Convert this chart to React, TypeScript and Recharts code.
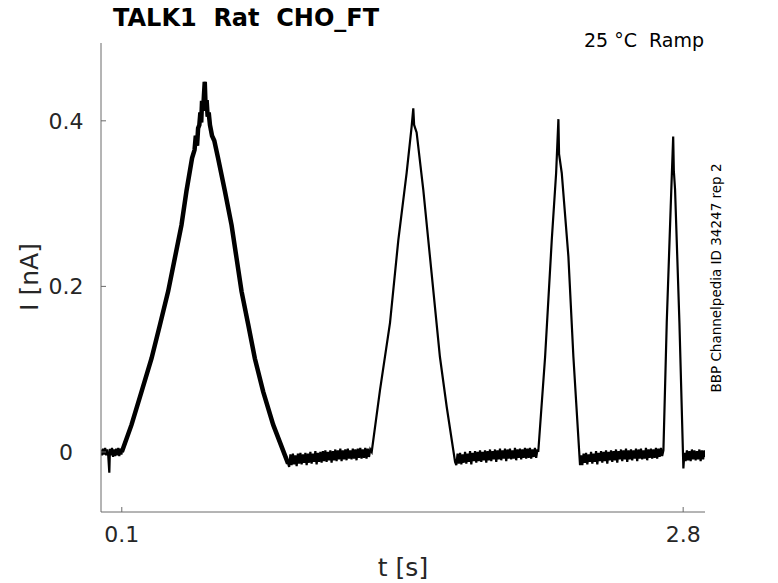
import React from "react";
import { LineChart, Line, XAxis, YAxis } from "recharts";

// 画布与坐标区(像素),对应原图 778x583
const W = 778;
const H = 583;
const FONT = "'DejaVu Sans', sans-serif";
const TXT = "#262626";
const AXIS = "#6b6b6b";

const xTicks = [0.1, 2.8];
const yTicks = [0, 0.2, 0.4];
const xDomain: [number, number] = [0, 2.905];
const yDomain: [number, number] = [-0.0725, 0.494];

// [t (s), I (nA)] —— 各段
const base0: [number, number][] = [
  [0.0, 0.003], [0.005, -0.004], [0.01, 0.004], [0.015, -0.003], [0.02, 0.005],
  [0.025, -0.004], [0.03, 0.003], [0.035, -0.005], [0.04, -0.025], [0.043, 0.004],
  [0.048, -0.004], [0.053, 0.005], [0.058, -0.006], [0.063, 0.003], [0.068, -0.005],
  [0.073, 0.004], [0.078, -0.004], [0.083, 0.005], [0.088, -0.005], [0.093, 0.004],
  [0.098, -0.003],
];

const ramp1: [number, number][] = [
  [0.1, 0.0], [0.147, 0.033], [0.195, 0.073], [0.243, 0.113], [0.283, 0.153],
  [0.323, 0.194], [0.355, 0.234], [0.387, 0.274], [0.411, 0.315], [0.438, 0.355],
  [0.45, 0.365], [0.456, 0.382], [0.462, 0.37], [0.467, 0.391], [0.473, 0.395],
  [0.478, 0.41], [0.482, 0.398], [0.486, 0.424], [0.491, 0.412], [0.495, 0.43],
  [0.499, 0.447], [0.503, 0.418], [0.508, 0.425], [0.513, 0.405], [0.518, 0.41],
  [0.524, 0.395], [0.534, 0.382], [0.545, 0.376], [0.563, 0.355], [0.596, 0.315],
  [0.628, 0.274], [0.652, 0.234], [0.676, 0.194], [0.708, 0.154], [0.74, 0.113],
  [0.78, 0.073], [0.828, 0.033], [0.9, -0.014],
];

const base1: [number, number][] = [
  [0.905, -0.018], [0.911, -0.003], [0.917, -0.016], [0.923, -0.002], [0.929, -0.015],
  [0.935, -0.004], [0.941, -0.017], [0.947, -0.002], [0.953, -0.014], [0.959, -0.001],
  [0.965, -0.015], [0.971, -0.003], [0.977, -0.013], [0.983, -0.001], [0.989, -0.016],
  [0.995, -0.002], [1.001, -0.013], [1.007, 0.0], [1.013, -0.014], [1.019, -0.002],
  [1.025, -0.012], [1.031, 0.001], [1.037, -0.015], [1.043, -0.001], [1.049, -0.012],
  [1.055, 0.0], [1.061, -0.013], [1.067, 0.001], [1.073, -0.011], [1.079, 0.002],
  [1.085, -0.012], [1.091, 0.0], [1.097, -0.01], [1.103, 0.002], [1.109, -0.013],
  [1.115, 0.001], [1.121, -0.01], [1.127, 0.003], [1.133, -0.011], [1.139, 0.002],
  [1.145, -0.009], [1.151, 0.004], [1.157, -0.011], [1.163, 0.002], [1.169, -0.009],
  [1.175, 0.003], [1.181, -0.01], [1.187, 0.004], [1.193, -0.008], [1.199, 0.002],
  [1.205, -0.009], [1.211, 0.004], [1.217, -0.008], [1.223, 0.003], [1.229, -0.01],
  [1.235, 0.004], [1.241, -0.007], [1.247, 0.005], [1.253, -0.008], [1.259, 0.003],
  [1.265, -0.007], [1.271, 0.005], [1.277, -0.008], [1.283, 0.004], [1.289, -0.006],
  [1.295, 0.003],
];

const ramp2: [number, number][] = [
  [1.302, 0.0], [1.342, 0.075], [1.39, 0.156], [1.43, 0.256], [1.47, 0.337],
  [1.494, 0.393], [1.502, 0.415], [1.506, 0.395], [1.518, 0.386], [1.55, 0.317],
  [1.59, 0.216], [1.63, 0.115], [1.663, 0.054], [1.703, -0.012],
];

const base2: [number, number][] = [
  [1.709, -0.016], [1.715, -0.002], [1.721, -0.014], [1.727, -0.001], [1.733, -0.015],
  [1.739, -0.003], [1.745, -0.013], [1.751, 0.0], [1.757, -0.014], [1.763, -0.002],
  [1.769, -0.012], [1.775, 0.001], [1.781, -0.015], [1.787, -0.001], [1.793, -0.011],
  [1.799, 0.001], [1.805, -0.013], [1.811, 0.0], [1.817, -0.011], [1.823, 0.002],
  [1.829, -0.012], [1.835, 0.0], [1.841, -0.01], [1.847, 0.002], [1.853, -0.013],
  [1.859, 0.001], [1.865, -0.01], [1.871, 0.003], [1.877, -0.011], [1.883, 0.001],
  [1.889, -0.009], [1.895, 0.003], [1.901, -0.012], [1.907, 0.002], [1.913, -0.009],
  [1.919, 0.004], [1.925, -0.01], [1.931, 0.002], [1.937, -0.008], [1.943, 0.004],
  [1.949, -0.011], [1.955, 0.003], [1.961, -0.008], [1.967, 0.004], [1.973, -0.009],
  [1.979, 0.002], [1.985, -0.008], [1.991, 0.005], [1.997, -0.01], [2.003, 0.003],
  [2.009, -0.007], [2.015, 0.004], [2.021, -0.009], [2.027, 0.003], [2.033, -0.007],
  [2.039, 0.005], [2.045, -0.008], [2.051, 0.004], [2.057, -0.007], [2.063, 0.005],
  [2.069, -0.008], [2.075, 0.003], [2.081, -0.006], [2.087, 0.005], [2.093, -0.007],
  [2.099, 0.003],
];

const ramp3: [number, number][] = [
  [2.103, 0.0], [2.136, 0.115], [2.168, 0.256], [2.189, 0.337], [2.2, 0.402],
  [2.203, 0.36], [2.216, 0.337], [2.248, 0.236], [2.272, 0.115], [2.304, -0.016],
];

const base3: [number, number][] = [
  [2.309, -0.004], [2.315, -0.016], [2.321, -0.002], [2.327, -0.013], [2.333, -0.001],
  [2.339, -0.015], [2.345, -0.003], [2.351, -0.012], [2.357, 0.0], [2.363, -0.014],
  [2.369, -0.002], [2.375, -0.012], [2.381, 0.001], [2.387, -0.015], [2.393, -0.001],
  [2.399, -0.011], [2.405, 0.001], [2.411, -0.013], [2.417, 0.0], [2.423, -0.011],
  [2.429, 0.002], [2.435, -0.014], [2.441, 0.0], [2.447, -0.01], [2.453, 0.002],
  [2.459, -0.012], [2.465, 0.001], [2.471, -0.01], [2.477, 0.003], [2.483, -0.013],
  [2.489, 0.001], [2.495, -0.009], [2.501, 0.003], [2.507, -0.011], [2.513, 0.002],
  [2.519, -0.009], [2.525, 0.004], [2.531, -0.012], [2.537, 0.002], [2.543, -0.009],
  [2.549, 0.003], [2.555, -0.01], [2.561, 0.002], [2.567, -0.008], [2.573, 0.004],
  [2.579, -0.011], [2.585, 0.003], [2.591, -0.008], [2.597, 0.004], [2.603, -0.009],
  [2.609, 0.002], [2.615, -0.008], [2.621, 0.005], [2.627, -0.01], [2.633, 0.003],
  [2.639, -0.007], [2.645, 0.004], [2.651, -0.008], [2.657, 0.003], [2.663, -0.007],
  [2.669, 0.005], [2.675, -0.008], [2.681, 0.004], [2.687, -0.006], [2.693, 0.005],
  [2.699, -0.005],
];

const ramp4: [number, number][] = [
  [2.705, 0.002], [2.721, 0.156], [2.74, 0.296], [2.752, 0.381], [2.755, 0.34],
  [2.761, 0.317], [2.782, 0.156], [2.801, -0.02],
];

const base4: [number, number][] = [
  [2.806, -0.001], [2.812, -0.011], [2.818, 0.002], [2.824, -0.01], [2.83, 0.001],
  [2.836, -0.011], [2.842, 0.003], [2.848, -0.009], [2.854, 0.002], [2.86, -0.01],
  [2.866, 0.001], [2.872, -0.009], [2.878, 0.003], [2.884, -0.011], [2.89, 0.002],
  [2.896, -0.009], [2.902, 0.002], [2.905, -0.006],
];

const ramp1Set = new Set(ramp1.map(([t]) => t));

// w 只在第一个斜坡上有值:那段原图噪声更大,描粗
const trace = [
  ...base0, ...ramp1, ...base1, ...ramp2, ...base2, ...ramp3, ...base3, ...ramp4, ...base4,
].map(([t, i]) => ({ t, i, w: ramp1Set.has(t) ? i : null }));

const fmt = (v: number) => (v === 0 ? "0" : String(v));

// 刻度朝内,标签在轴外
function YTick(props: any) {
  const { x, y, payload } = props;
  return (
    <g>
      <line x1={x} x2={x + 5} y1={y} y2={y} stroke={AXIS} />
      <text x={x - 35} y={y} dy="0.36em" textAnchor="middle" fill={TXT} fontSize={22} fontFamily={FONT}>
        {fmt(payload.value)}
      </text>
    </g>
  );
}

function XTick(props: any) {
  const { x, y, payload } = props;
  return (
    <g>
      <line x1={x} x2={x} y1={y} y2={y - 5} stroke={AXIS} />
      <text x={x} y={y + 30} textAnchor="middle" fill={TXT} fontSize={22} fontFamily={FONT}>
        {fmt(payload.value)}
      </text>
    </g>
  );
}

export default function App() {
  return (
    <div style={{ position: "absolute", left: 0, top: 0, width: W, height: H, background: "#fff" }}>
      <LineChart
        width={W}
        height={H}
        data={trace}
        margin={{ top: 43, right: 73, bottom: 31, left: 41 }}
      >
        <XAxis
          type="number"
          dataKey="t"
          domain={xDomain}
          ticks={xTicks}
          allowDataOverflow
          stroke={AXIS}
          tickSize={0}
          tickMargin={0}
          height={40}
          tick={<XTick />}
        />
        <YAxis
          type="number"
          domain={yDomain}
          ticks={yTicks}
          allowDataOverflow
          stroke={AXIS}
          tickSize={0}
          tickMargin={0}
          width={60}
          tick={<YTick />}
        />
        <Line
          type="linear"
          dataKey="i"
          stroke="#000"
          strokeWidth={2.2}
          dot={false}
          isAnimationActive={false}
        />
        <Line
          type="linear"
          dataKey="w"
          stroke="#000"
          strokeWidth={4.5}
          strokeLinejoin="miter"
          dot={false}
          connectNulls={false}
          isAnimationActive={false}
        />
      </LineChart>
      <svg
        width={W}
        height={H}
        style={{ position: "absolute", left: 0, top: 0, pointerEvents: "none" }}
      >
        <text x={113} y={26} fontSize={24} fontWeight="bold" fontFamily={FONT} fill="#000" xmlSpace="preserve">
          TALK1  Rat  CHO_FT
        </text>
        <text x={704} y={47} textAnchor="end" fontSize={19} fontFamily={FONT} fill="#000" xmlSpace="preserve">
          25 °C  Ramp
        </text>
        <text
          x={0}
          y={0}
          transform="translate(721 278) rotate(-90)"
          textAnchor="middle"
          fontSize={13.5}
          fontFamily={FONT}
          fill="#000"
        >
          BBP Channelpedia ID 34247 rep 2
        </text>
        <text
          x={0}
          y={0}
          transform="translate(38 277) rotate(-90)"
          textAnchor="middle"
          fontSize={25}
          fontFamily={FONT}
          fill={TXT}
        >
          I [nA]
        </text>
        <text x={403} y={576} textAnchor="middle" fontSize={25} fontFamily={FONT} fill={TXT}>
          t [s]
        </text>
      </svg>
    </div>
  );
}
